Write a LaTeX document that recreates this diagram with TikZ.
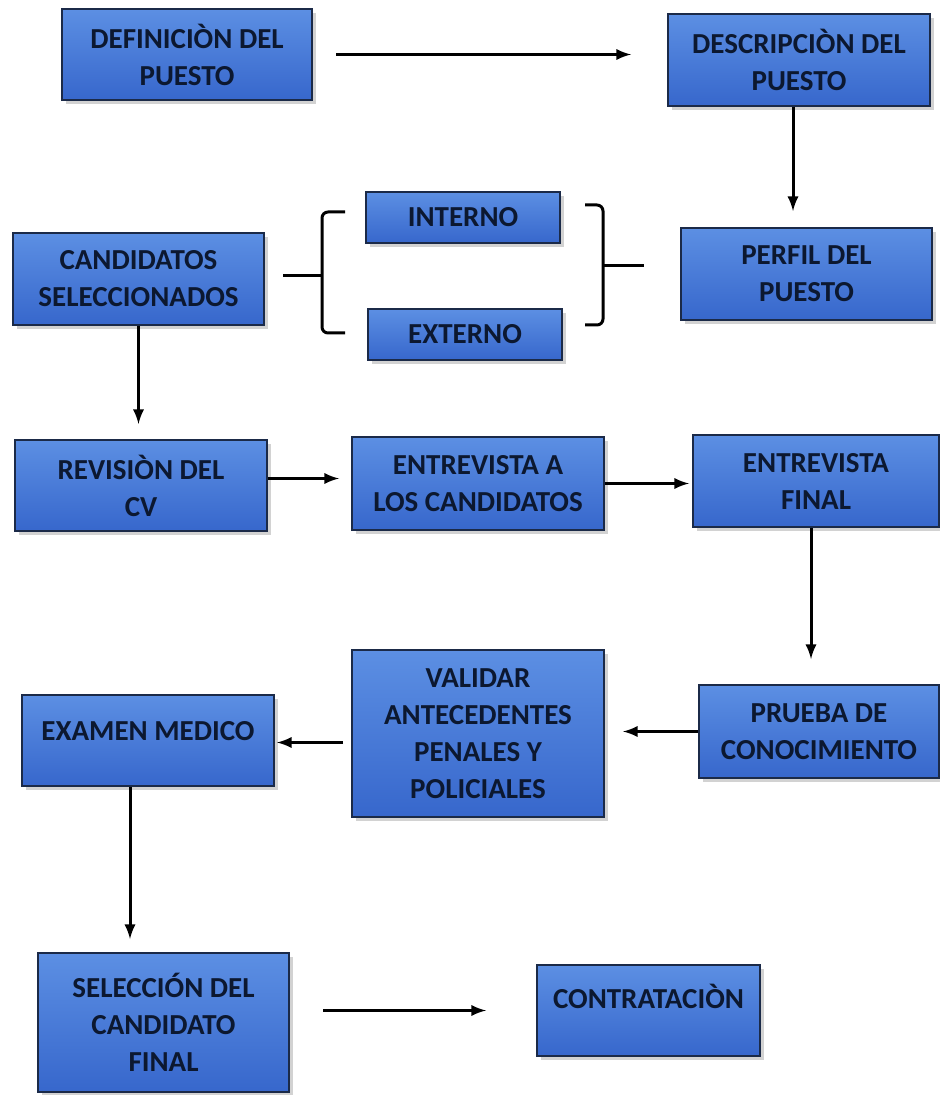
\documentclass[tikz,border=0pt]{standalone}
\usepackage{fontspec}
\setmainfont{Carlito}
\usetikzlibrary{arrows,shadows}

\definecolor{boxtop}{HTML}{5C8FE3}
\definecolor{boxbot}{HTML}{3767CC}
\definecolor{boxline}{HTML}{1B2A48}
\definecolor{boxtext}{HTML}{0C1830}

\tikzset{
  paso/.style={rectangle, draw=boxline, line width=1pt, top color=boxtop, bottom color=boxbot,
    drop shadow={opacity=0.35, shadow xshift=2pt, shadow yshift=-2pt},
    text=boxtext, font=\fontsize{14.5}{18.5}\selectfont\bfseries, align=center, inner sep=0pt},
  flecha/.style={line width=1.5pt, ->, >=latex},
  llave/.style={line width=1.5pt, rounded corners=3pt},
}

\begin{document}
\begin{tikzpicture}[x=0.5pt, y=-0.5pt]
	\fill[white] (0,0) rectangle (939,1095);
	\useasboundingbox (0,0) rectangle (939,1095);
	\node[paso, minimum width=125pt, minimum height=45.5pt] (a) at (187,54.5) {DEFINICIÒN DEL\\PUESTO};
	\node[paso, minimum width=131pt, minimum height=46pt] (b) at (799,60) {DESCRIPCIÒN DEL\\PUESTO};
	\node[paso, minimum width=125.5pt, minimum height=46pt] (c) at (806.5,274) {PERFIL DEL\\PUESTO};
	\node[paso, minimum width=125.5pt, minimum height=46pt] (d) at (138.5,279) {CANDIDATOS\\SELECCIONADOS};
	\node[paso, minimum width=97pt, minimum height=25.5pt] (e) at (463,217.5) {INTERNO};
	\node[paso, minimum width=97pt, minimum height=25.5pt] (f) at (465,334.5) {EXTERNO};
	\node[paso, minimum width=126pt, minimum height=45.5pt] (g) at (141,485.5) {REVISIÒN DEL\\CV};
	\node[paso, minimum width=126pt, minimum height=46.5pt] (h) at (478,483.5) {ENTREVISTA A\\LOS CANDIDATOS};
	\node[paso, minimum width=123pt, minimum height=46pt] (i) at (816,481) {ENTREVISTA\\FINAL};
	\node[paso, minimum width=120pt, minimum height=46.5pt] (j) at (819,731.5) {PRUEBA DE\\CONOCIMIENTO};
	\node[paso, minimum width=126pt, minimum height=83.5pt] (k) at (478,733.5) {VALIDAR\\ANTECEDENTES\\PENALES Y\\POLICIALES};
	\node[paso, minimum width=126pt, minimum height=45.5pt, text depth=10pt] (l) at (148,740.5) {EXAMEN MEDICO};
	\node[paso, minimum width=125.5pt, minimum height=69.5pt] (m) at (163.5,1022.5) {SELECCIÓN DEL\\CANDIDATO\\FINAL};
	\node[paso, minimum width=111.5pt, minimum height=45.5pt, text depth=14pt] (n) at (648.5,1010.5) {CONTRATACIÒN};
	% llaves
	\coordinate (ll) at (322,276);
	\coordinate (rl) at (603,266);
	\draw[llave] (345,212) -- (322,212) -- (322,333) -- (345,333);
	\draw[llave] (585,205) -- (603,205) -- (603,325) -- (585,325);
	\draw[llave, shorten <=9pt] (d.east |- ll) -- (ll);
	\draw[llave, shorten >=18pt] (rl) -- (rl -| c.west);
	% flechas
	\draw[flecha, shorten <=11.5pt, shorten >=18pt] (a.east) -- (a.east -| b.west);
	\draw[flecha, shorten >=8pt] ([xshift=-3pt]b.south) -- ([xshift=-3pt]b.south |- c.north);
	\draw[flecha, shorten >=7.5pt] (d.south) -- (d.south |- g.north);
	\draw[flecha, shorten >=6pt] ([yshift=3.5pt]g.east) -- ([yshift=3.5pt]g.east -| h.west);
	\draw[flecha, shorten >=1.5pt] (h.east) -- (h.east -| i.west);
	\draw[flecha, shorten >=12.5pt] ([xshift=-2.5pt]i.south) -- ([xshift=-2.5pt]i.south |- j.north);
	\draw[flecha, shorten >=9pt] (j.west) -- (j.west -| k.east);
	\draw[flecha, shorten <=4pt, shorten >=1pt] ([yshift=-1pt]l.east -| k.west) -- ([yshift=-1pt]l.east);
	\draw[flecha, shorten >=6.5pt] ([xshift=-9pt]l.south) -- ([xshift=-9pt]l.south |- m.north);
	\draw[flecha, shorten <=16.5pt, shorten >=25pt] (m.east |- n.west) -- (n.west);
\end{tikzpicture}
\end{document}
